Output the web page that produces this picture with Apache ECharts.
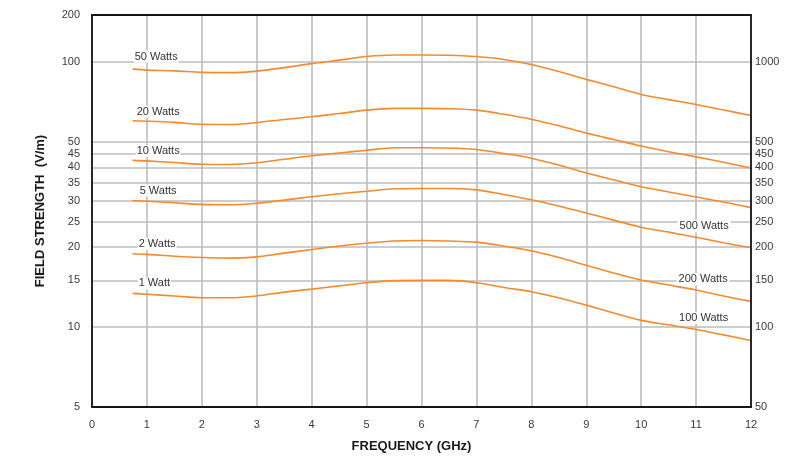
<!DOCTYPE html>
<html>
<head>
<meta charset="utf-8">
<script src="https://cdn.jsdelivr.net/npm/echarts@6/dist/echarts.min.js"></script>
<style>html,body{margin:0;padding:0;background:#fff}#c{width:802px;height:458px}</style>
</head>
<body>
<div id="c"></div>
<script>
// ---- data ----
const freqGHz = [0.74, 1, 1.5, 2, 2.5, 3, 3.5, 4, 4.5, 5, 5.5, 6, 6.5, 7, 7.5, 8, 8.5, 9, 9.5, 10, 10.5, 11, 11.5, 12];
const w50 = [94, 93, 92.4, 91.2, 91, 92.2, 95, 98.4, 101.4, 104.6, 106, 106, 105.8, 104.6, 102, 97.6, 91.8, 85.8, 80.5, 75.3, 72.0, 69.0, 65.8, 62.7];
const w20 = [59.9, 59.7, 59.1, 58.1, 58.0, 59.0, 60.6, 62.0, 63.8, 65.7, 66.7, 66.7, 66.5, 65.7, 63.4, 60.7, 57.4, 53.9, 50.9, 48.1, 45.8, 43.8, 41.8, 39.8];
const w10 = [42.5, 42.3, 41.7, 41.1, 41.0, 41.6, 42.9, 44.2, 45.3, 46.4, 47.4, 47.4, 47.3, 46.7, 45.1, 43.3, 40.8, 38.1, 35.9, 33.8, 32.3, 30.9, 29.6, 28.2];
const w5  = [30.0, 29.8, 29.4, 29.0, 28.9, 29.3, 30.1, 31.0, 31.8, 32.5, 33.2, 33.3, 33.3, 32.9, 31.6, 30.2, 28.6, 26.9, 25.3, 23.8, 22.8, 21.8, 20.8, 19.9];
const w2  = [18.9, 18.8, 18.5, 18.3, 18.2, 18.4, 19.0, 19.6, 20.2, 20.7, 21.1, 21.2, 21.1, 20.9, 20.2, 19.4, 18.3, 17.1, 16.0, 15.05, 14.4, 13.8, 13.1, 12.5];
const w1  = [13.4, 13.3, 13.1, 12.9, 12.9, 13.1, 13.55, 13.9, 14.3, 14.7, 14.97, 15.0, 15.0, 14.7, 14.1, 13.6, 12.9, 12.1, 11.3, 10.6, 10.2, 9.8, 9.35, 8.9];
const seriesValues = [w50, w20, w10, w5, w2, w1];
const leftNames = ['50 Watts', '20 Watts', '10 Watts', '5 Watts', '2 Watts', '1 Watt'];
const rightNames = [null, null, null, '500 Watts', '200 Watts', '100 Watts'];
const rightLabelX = 11;

const leftTicks = [5, 10, 15, 20, 25, 30, 35, 40, 45, 50, 100, 150];
const leftTickText = ['5', '10', '15', '20', '25', '30', '35', '40', '45', '50', '100', '200'];
const rightTicks = [50, 100, 150, 200, 250, 300, 350, 400, 450, 500, 1000];
const rightTickText = ['50', '100', '150', '200', '250', '300', '350', '400', '450', '500', '1000'];
const xTicks = [0, 1, 2, 3, 4, 5, 6, 7, 8, 9, 10, 11, 12];
const xMin = 0, xMax = 12, yMin = 5, yMax = 150, y2Min = 50, y2Max = 1500;

// ---- styles ----
const FONT = '"Liberation Sans", Arial, Helvetica, sans-serif';
const ORANGE = '#f58a2f';
const BORDER = {show: true, onZero: false, lineStyle: {color: '#161616', width: 1.8}};
const GRIDLINE = {show: true, lineStyle: {color: '#bcbcbc', width: 1.6}};
const leftLabelOffsets = [[1, -12], [3, -9], [3, -9], [6, -10], [5, -10], [5, -10]];
const rightLabelOffsets = [null, null, null, [8, -11], [7, -11], [7.5, -11.5]];

const chart = echarts.init(document.getElementById('c'), null, {renderer: 'canvas'});

const series = seriesValues.map((vals, si) => ({
  type: 'line',
  xAxisIndex: 0,
  yAxisIndex: 0,
  smooth: 0.3,
  showSymbol: true,
  showAllSymbol: true,
  symbol: 'circle',
  symbolSize: 0,
  silent: true,
  z: 3,
  lineStyle: {color: ORANGE, width: 1.6},
  itemStyle: {color: ORANGE},
  label: {show: false},
  data: vals.map((v, i) => {
    const item = {value: [freqGHz[i], v]};
    if (i === 0) {
      item.label = {
        show: true, formatter: leftNames[si],
        position: leftLabelOffsets[si], align: 'left', verticalAlign: 'middle',
        color: '#333', fontSize: 11, fontFamily: FONT,
        backgroundColor: '#fff', padding: [1, 1, 0, 1]
      };
    } else if (rightNames[si] && freqGHz[i] === rightLabelX) {
      item.label = {
        show: true, formatter: rightNames[si],
        position: rightLabelOffsets[si], align: 'center', verticalAlign: 'middle',
        color: '#333', fontSize: 11, fontFamily: FONT,
        backgroundColor: '#fff', padding: [1, 2, 0, 2]
      };
    }
    return item;
  })
}));

const borderOnly = {axisTick: {show: false}, axisLabel: {show: false}, splitLine: {show: false}, axisLine: BORDER, z: 4};

chart.setOption({
  animation: false,
  backgroundColor: '#fff',
  grid: {left: 92, right: 51, top: 15, bottom: 50.5, show: false},
  xAxis: [{
    type: 'value', min: xMin, max: xMax, interval: 1, position: 'bottom',
    name: 'FREQUENCY (GHz)', nameLocation: 'middle', nameGap: 33,
    nameTextStyle: {fontFamily: FONT, fontSize: 13, fontWeight: 'bold', color: '#1a1a1a', padding: [0, 20, 0, 0]},
    axisLine: {show: false},
    axisTick: {show: false},
    axisLabel: {fontFamily: FONT, fontSize: 11, color: '#3a3a3a', margin: 12, customValues: xTicks},
    splitLine: GRIDLINE,
    z: 0
  },
  Object.assign({type: 'value', min: xMin, max: xMax, position: 'top'}, borderOnly),
  Object.assign({type: 'value', min: xMin, max: xMax, position: 'bottom'}, borderOnly)
  ],
  yAxis: [{
    type: 'log', logBase: 10, min: yMin, max: yMax, position: 'left',
    name: 'FIELD STRENGTH  (V/m)', nameLocation: 'middle', nameGap: 45,
    nameTextStyle: {fontFamily: FONT, fontSize: 13, fontWeight: 'bold', color: '#1a1a1a'},
    axisLine: {show: false},
    axisTick: {show: false, customValues: leftTicks},
    axisLabel: {
      fontFamily: FONT, fontSize: 11, color: '#3a3a3a', margin: 12,
      customValues: leftTicks, showMinLabel: true, showMaxLabel: true,
      formatter: v => { const k = leftTicks.findIndex(t => Math.abs(t - v) < 1e-6); return k >= 0 ? leftTickText[k] : ''; }
    },
    splitLine: GRIDLINE,
    z: 0
  }, {
    type: 'log', logBase: 10, min: y2Min, max: y2Max, position: 'right',
    axisLine: BORDER,
    axisTick: {show: false, customValues: rightTicks},
    axisLabel: {
      fontFamily: FONT, fontSize: 11, color: '#3a3a3a', margin: 4,
      customValues: rightTicks, showMinLabel: true,
      formatter: v => { const k = rightTicks.findIndex(t => Math.abs(t - v) < 1e-6); return k >= 0 ? rightTickText[k] : ''; }
    },
    splitLine: {show: false},
    z: 4
  },
  Object.assign({type: 'log', logBase: 10, min: yMin, max: yMax, position: 'left'}, borderOnly)
  ],
  series: series
});
</script>
</body>
</html>
